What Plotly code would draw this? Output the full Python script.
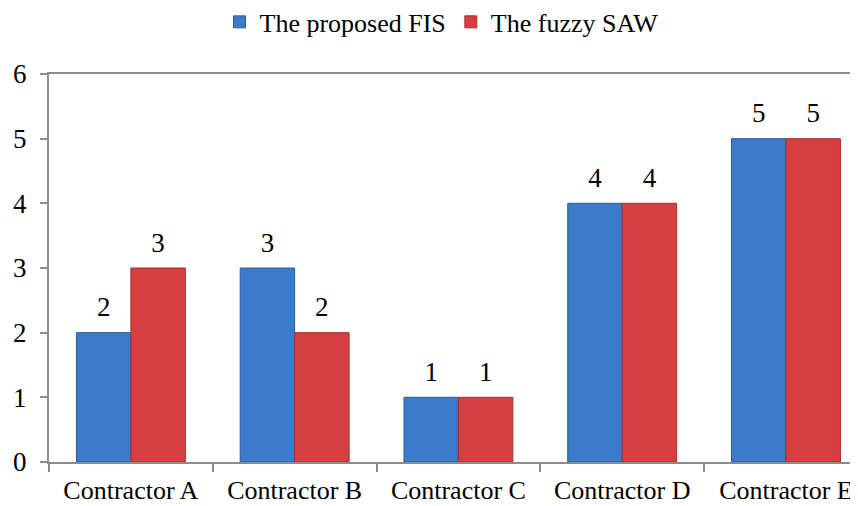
"""Ranking of contractors: proposed FIS vs fuzzy SAW, grouped bar chart."""
import plotly.graph_objects as go

# data
contractors = ['Contractor A', 'Contractor B', 'Contractor C',
               'Contractor D', 'Contractor E']
fis_rank = [2, 3, 1, 4, 5]
saw_rank = [3, 2, 1, 4, 5]
y_ticks = [0, 1, 2, 3, 4, 5, 6]

FONT = 'Liberation Serif, Times New Roman, serif'
AXIS_GREY = '#8c8c8c'
GAP = 0.335

fig = go.Figure()

series = [
    ('The proposed FIS', fis_rank, '#3b7bc9', '#2b5c99', 'fis'),
    ('The fuzzy SAW', saw_rank, '#d63f3f', '#a33030', 'saw'),
]

for name, values, fill, edge, group in series:
    fig.add_trace(go.Bar(
        name=name,
        x=contractors,
        y=values,
        offsetgroup=group,
        marker=dict(color=fill, line=dict(color=edge, width=1)),
    ))
    # value labels, lifted a bit above the bar tops like in the original
    fig.add_trace(go.Scatter(
        x=contractors,
        y=values,
        text=values,
        mode='markers+text',
        textposition='top center',
        offsetgroup=group,
        marker=dict(size=14, opacity=0),
        textfont=dict(family=FONT, size=27, color='black'),
        showlegend=False,
        hoverinfo='skip',
        cliponaxis=False,
    ))

# the page body adds 8px on the left and top, so the figure is a bit smaller
fig.update_layout(
    width=850,
    height=498,
    barmode='group',
    bargap=GAP,
    bargroupgap=0,
    scattermode='group',
    scattergap=GAP,
    plot_bgcolor='white',
    paper_bgcolor='white',
    margin=dict(l=41, r=0, t=66, b=44),
    font=dict(family=FONT, size=27, color='black'),
    showlegend=True,
    legend=dict(
        orientation='h',
        xref='container',
        x=0.51, xanchor='center',
        yref='container',
        y=0.972, yanchor='middle',
        font=dict(family=FONT, size=26, color='black'),
        traceorder='normal',
    ),
)

# category axis, the chart is cut off on the right
fig.update_xaxes(
    range=[-0.5, 4.44],
    automargin=False,
    showline=True,
    linecolor=AXIS_GREY,
    linewidth=2,
    mirror=True,
    ticks='outside',
    tickson='boundaries',
    ticklen=8,
    tickcolor=AXIS_GREY,
    tickwidth=1.5,
    ticklabelstandoff=4,
    showgrid=False,
    tickfont=dict(family=FONT, size=26, color='black'),
)

fig.update_yaxes(
    range=[0, 6],
    automargin=False,
    tickvals=y_ticks,
    showline=True,
    linecolor=AXIS_GREY,
    linewidth=2,
    ticks='outside',
    ticklen=7,
    tickcolor=AXIS_GREY,
    tickwidth=1.5,
    ticklabelstandoff=8,
    showgrid=False,
    zeroline=False,
    tickfont=dict(family=FONT, size=27, color='black'),
)

fig.write_html("out.html")
